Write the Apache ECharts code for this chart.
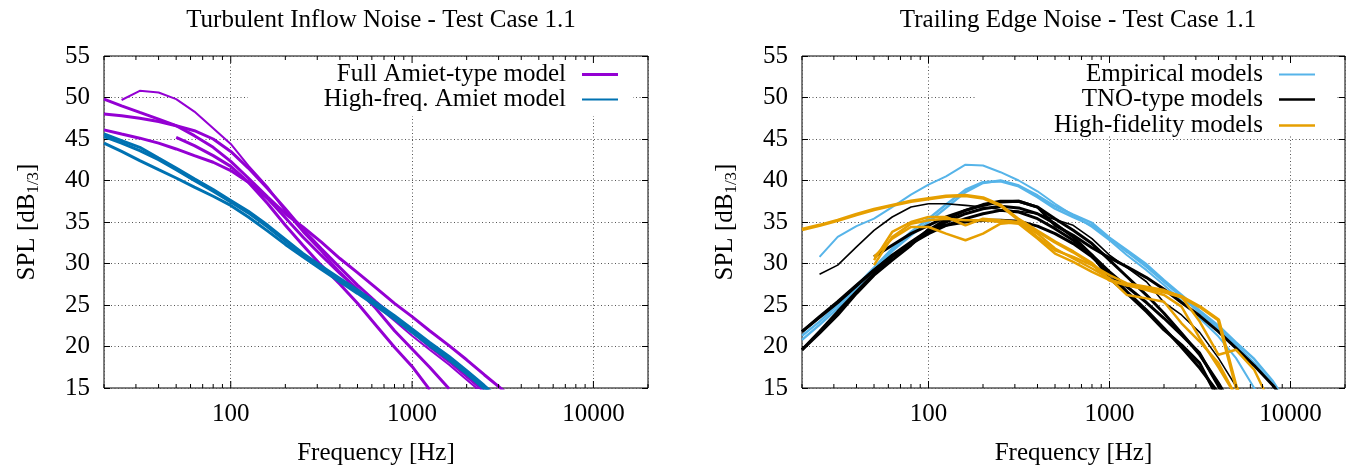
<!DOCTYPE html>
<html><head><meta charset="utf-8">
<script src="https://cdn.jsdelivr.net/npm/echarts@6/dist/echarts.min.js"></script>
<style>html,body{margin:0;padding:0;background:#fff}#c{width:1352px;height:467px}</style>
</head><body><div id="c"></div>
<script>
// third-octave band centre frequencies [Hz]
const FREQ = [20,25,31.5,40,50,63,80,100,125,160,200,250,315,400,500,630,800,1000,1250,1600,2000,2500,3150,4000,5000,6300,8000,10000];
const X_TICKS = [20,30,40,50,60,70,80,90,100,200,300,400,500,600,700,800,900,1000,2000,3000,4000,5000,6000,7000,8000,9000,10000,20000];
const _ = null;

// ---- Left: Turbulent inflow noise ----
const AMIET_FULL = [
  [_,49.7,50.8,50.6,49.8,48.3,46.3,44.4,41.8,39.2,36.3,33.8,31.5,29.0,26.9,25.0,23.1,21.3,19.6,17.8,16.0,14.2],
  [49.8,49.0,48.2,47.4,46.6,45.4,44.0,42.3,40.3,38.0,36.0,34.4,32.6,30.6,28.9,27.1,25.2,23.6,21.9,20.1,18.4,16.6,14.8,13.0],
  [48.0,47.8,47.5,47.1,46.6,46.0,45.0,43.5,41.5,39.0,36.6,34.1,31.8,29.5,27.4,25.4,23.5,21.8,20.0,18.2,16.4,14.6],
  [46.1,45.6,45.1,44.5,43.8,43.0,42.2,41.2,39.8,37.8,35.5,33.2,31.0,28.8,26.9,24.6,21.9,19.7,17.5,14.9],
  [_,_,_,_,45.2,44.2,43.0,41.7,39.8,37.2,34.6,32.2,29.8,27.5,25.2,22.6,19.9,17.6,14.8]
];
const AMIET_HF = [
  [45.6,44.8,44.0,42.7,41.5,40.2,38.9,37.6,36.3,34.6,32.9,31.2,29.7,28.2,26.8,25.3,23.7,22.1,20.5,18.8,17.1,15.3,13.4],
  [45.3,44.5,43.6,42.5,41.3,40.0,38.7,37.4,36.1,34.4,32.7,31.0,29.5,28.0,26.6,25.1,23.5,21.9,20.3,18.6,16.9,15.1,13.2],
  [44.5,43.5,42.4,41.3,40.3,39.2,38.1,37.0,35.6,33.9,32.3,30.8,29.3,27.8,26.4,24.9,23.3,21.7,20.1,18.4,16.7,14.9,13.0]
];

// ---- Right: Trailing edge noise ----
const EMPIRICAL = [
  [_,30.8,33.2,34.5,35.4,36.8,38.3,39.5,40.5,41.9,41.8,41.0,40.0,38.7,37.2,35.8,34.4,32.8,31.0,29.2,27.4,25.5,23.4,21.2,18.6,15.0,11.0],
  [20.8,22.6,24.6,27.0,29.2,31.5,33.4,35.0,36.7,38.6,39.7,40.0,39.4,38.2,36.9,35.9,34.9,33.1,31.6,29.9,28.0,26.2,24.3,22.5,20.5,18.5,15.8,12.5],
  [21.3,23.0,25.0,27.3,29.5,31.8,33.8,35.4,37.1,38.9,39.8,39.9,39.3,38.0,36.6,35.6,34.6,33.0,31.4,29.6,27.8,26.0,24.1,22.2,20.2,18.0,15.4,12.0]
];
const TNO = [
  [_,28.7,29.8,32.0,34.0,35.6,36.8,37.2,37.2,37.0,36.8,36.5,36.3,36.0,35.3,34.6,33.0,31.0,29.5,27.8,25.3,23.8,21.7,18.6,15.2,12.0],
  [21.8,23.5,25.3,27.3,29.2,31.0,32.6,34.0,35.3,36.4,37.1,37.5,37.5,36.8,34.6,33.4,31.9,30.7,29.6,28.3,26.9,25.3,23.7,21.8,19.8,17.7,15.3,12.6],
  [19.6,21.8,24.2,26.6,28.8,30.8,32.4,33.8,35.0,36.0,36.6,36.9,36.7,36.0,34.8,33.2,31.0,28.2,26.4,24.2,22.0,20.2,18.0,13.6],
  [21.8,23.6,25.4,27.4,29.2,30.9,32.4,33.6,34.6,35.4,36.0,36.4,36.2,35.4,34.2,32.8,31.0,29.0,27.2,25.3,23.4,21.4,19.2,15.2,11.0],
  [19.6,21.6,23.8,26.4,28.6,30.4,32.2,34.1,34.6,35.0,35.2,35.2,35.1,34.5,33.6,32.4,30.8,28.8,26.6,24.4,22.2,19.9,17.4,14.4],
  [_,_,_,_,30.8,32.2,33.6,34.6,35.6,36.4,37.0,37.4,37.5,36.8,35.4,34.0,32.4,30.4,28.4,26.2,24.0,21.6,19.0,15.6,12.0]
];
const HIFI = [
  [34.1,34.6,35.2,35.9,36.5,37.0,37.5,37.8,38.1,38.2,37.9,37.0,35.3,33.9,32.6,31.4,30.0,28.0,27.4,27.0,26.6,26.0,24.8,23.2,15.2,10.0],
  [_,_,_,_,30.4,33.8,35.0,35.6,35.6,34.6,35.4,35.2,35.0,33.6,31.8,30.6,29.4,28.2,26.2,25.8,25.4,22.8,20.6,18.0,14.0],
  [_,_,_,_,30.8,33.0,34.4,34.4,33.6,32.8,33.6,34.8,35.0,33.2,31.6,30.8,29.8,28.6,27.6,27.2,26.8,26.0,23.0,19.0,19.6,17.2,12.5],
  [_,_,_,_,29.8,33.2,34.8,35.2,35.4,35.2,35.2,35.0,34.8,33.0,31.2,30.2,29.0,28.0,27.4,26.8,26.2,24.8,21.0,17.5,14.0]
];

const FONT = 'Liberation Serif';
const COL = {purple:'#9400d3', blue:'#0072b2', sky:'#56b4e9', black:'#000000', orange:'#e69f00'};

function line(name, vals, color, width, g) {
  return {
    type:'line', name, xAxisIndex:g, yAxisIndex:g*2, symbol:'none', silent:true, clip:true,
    data: FREQ.map((f,i)=>[f, vals[i]]).filter(d=>d[1]!=null && d[1]!==undefined),
    lineStyle:{color, width}, itemStyle:{color}
  };
}
function tickSeries(g) {
  return {
    type:'custom', xAxisIndex:g, yAxisIndex:g*2, silent:true, z:5,
    data: X_TICKS.map(v=>[v,15]),
    renderItem(params, api) {
      const v = api.value(0);
      const major = Math.abs(Math.log10(v) - Math.round(Math.log10(v))) < 1e-9;
      const len = major ? 7 : 4;
      const b = api.coord([v,15]), t = api.coord([v,55]);
      const st = {stroke:'#000', lineWidth:1};
      return {type:'group', children:[
        {type:'line', shape:{x1:b[0],y1:b[1],x2:b[0],y2:b[1]-len}, style:st},
        {type:'line', shape:{x1:t[0],y1:t[1],x2:t[0],y2:t[1]+len}, style:st}
      ]};
    }
  };
}

const series = [];
AMIET_FULL.forEach((v,i)=>series.push(line('Full Amiet-type model', v, COL.purple, i===0?2:3, 0)));
AMIET_HF.forEach((v,i)=>series.push(line('High-freq. Amiet model', v, COL.blue, 3, 0)));
EMPIRICAL.forEach((v,i)=>series.push(line('Empirical models', v, COL.sky, i===0?2:2.5, 1)));
TNO.forEach((v,i)=>series.push(line('TNO-type models', v, COL.black, i===0?1.6:3, 1)));
HIFI.forEach((v,i)=>series.push(line('High-fidelity models', v, COL.orange, i===0?3.5:2.5, 1)));
series.push(tickSeries(0), tickSeries(1));

const txt = {fontFamily:FONT, fontSize:25, color:'#000'};
function xAxis(g) {
  return {
    type:'log', gridIndex:g, min:20, max:20000,
    name:'Frequency [Hz]', nameLocation:'middle', nameGap:53, nameTextStyle:txt,
    axisLine:{show:false}, axisTick:{show:false},
    axisLabel:{...txt, margin:14, showMinLabel:false, showMaxLabel:false, formatter:v=>String(Math.round(v))},
    splitLine:{show:true, lineStyle:{color:'#555', width:1, type:[1,2.5]}}
  };
}
function yAxes(g) {
  return [{
    type:'value', gridIndex:g, min:15, max:55, interval:5, position:'left',
    name:'{a|SPL [dB}{s|1/3}{a|]}', nameLocation:'middle', nameGap:62, nameRotate:90,
    nameTextStyle:{rich:{a:{...txt}, s:{fontFamily:FONT, fontSize:17, color:'#000', padding:[12,0,0,0]}}},
    axisLine:{show:false}, axisTick:{show:true, inside:true, length:6, lineStyle:{color:'#000'}},
    axisLabel:{...txt, margin:14},
    splitLine:{show:true, lineStyle:{color:'#555', width:1, type:[1,2.5]}}
  },{
    type:'value', gridIndex:g, min:15, max:55, interval:5, position:'right',
    axisLine:{show:false}, axisTick:{show:true, inside:true, length:6, lineStyle:{color:'#000'}},
    axisLabel:{show:false}, splitLine:{show:false}
  }];
}
function legendItem(name, right, top, color, width) {
  return {
    data:[{name, icon:'rect', itemStyle:{color}}], right, top, orient:'vertical', align:'right',
    padding:0, itemWidth:36, itemHeight:width, selectedMode:false,
    textStyle:{...txt, padding:[0,11,0,0]}
  };
}

const chart = echarts.init(document.getElementById('c'), null, {renderer:'canvas'});
chart.setOption({
  animation:false,
  backgroundColor:'#fff',
  title:[
    {text:'Turbulent Inflow Noise - Test Case 1.1', left:376, top:3, textAlign:'center', textStyle:{...txt, fontWeight:'normal'}},
    {text:'Trailing Edge Noise - Test Case 1.1', left:1073, top:3, textAlign:'center', textStyle:{...txt, fontWeight:'normal'}}
  ],
  grid:[
    {left:104, top:56, width:544, height:332, outerBoundsMode:'none', show:true, borderColor:'#000', borderWidth:1, backgroundColor:'transparent'},
    {left:802, top:56, width:543, height:332, outerBoundsMode:'none', show:true, borderColor:'#000', borderWidth:1, backgroundColor:'transparent'}
  ],
  xAxis:[xAxis(0), xAxis(1)],
  yAxis:[...yAxes(0), ...yAxes(1)],
  legend:[
    legendItem('Full Amiet-type model', 734, 62, COL.purple, 3),
    legendItem('High-freq. Amiet model', 734, 87, COL.blue, 2),
    legendItem('Empirical models', 37, 62, COL.sky, 2),
    legendItem('TNO-type models', 37, 87, COL.black, 2.5),
    legendItem('High-fidelity models', 37, 113, COL.orange, 2.5)
  ],
  graphic:[
    {type:'rect', z:1, silent:true, shape:{x:248, y:58, width:385, height:58}, style:{fill:'#fff'}},
    {type:'rect', z:1, silent:true, shape:{x:977, y:58, width:360, height:78}, style:{fill:'#fff'}}
  ],
  series
});
</script>
</body></html>
